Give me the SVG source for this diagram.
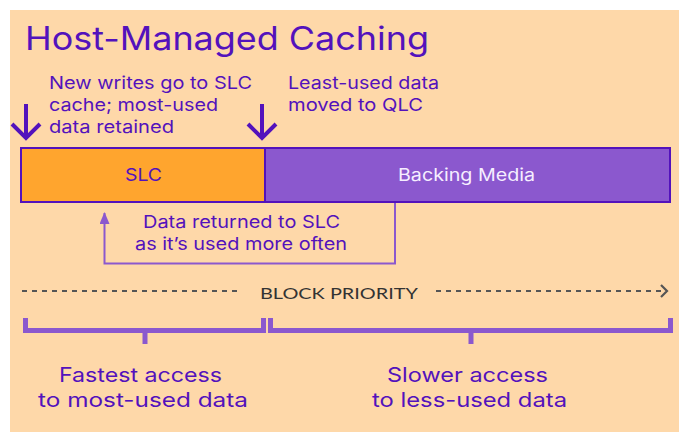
<svg xmlns="http://www.w3.org/2000/svg" width="679" height="432" viewBox="0 0 679 432">
  <defs>
    <style>
      .t { font-family: Inter, "Noto Sans", sans-serif; fill: #5312BC; }
      .note { font-size: 17.5px; }
      .big { font-size: 20px; }
      .down { stroke: #5312BC; stroke-width: 4; fill: none; }
      .brk { stroke: #8B58CE; stroke-width: 5; fill: none; }
      .dash { stroke: #555555; stroke-width: 2.2; stroke-dasharray: 5 5; fill: none; }
    </style>
    <marker id="tri" viewBox="0 0 12 10" refX="11" refY="5" markerWidth="12" markerHeight="10" markerUnits="userSpaceOnUse" orient="auto">
      <path d="M0,0 L12,5 L0,10 Z" fill="#8B58CE"/>
    </marker>
  </defs>
  <rect x="0" y="0" width="679" height="432" fill="#FFFFFF"/>
  <rect x="10" y="10" width="669" height="422" fill="#FED8A9"/>

  <text class="t" x="25" y="50" font-size="32" textLength="404" lengthAdjust="spacingAndGlyphs">Host-Managed Caching</text>

  <g id="note-new-writes">
    <text class="t note" x="49" y="89" textLength="203" lengthAdjust="spacingAndGlyphs">New writes go to SLC</text>
    <text class="t note" x="49" y="111" textLength="169" lengthAdjust="spacingAndGlyphs">cache; most-used</text>
    <text class="t note" x="49" y="133" textLength="125" lengthAdjust="spacingAndGlyphs">data retained</text>
  </g>
  <g id="note-least-used">
    <text class="t note" x="288" y="89" textLength="151" lengthAdjust="spacingAndGlyphs">Least-used data</text>
    <text class="t note" x="288" y="111" textLength="135" lengthAdjust="spacingAndGlyphs">moved to QLC</text>
  </g>

  <g id="slc">
    <rect x="21" y="148" width="244" height="54" fill="#FFA52E" stroke="#5312BC" stroke-width="2"/>
    <text class="t" x="125" y="181" font-size="17" textLength="37" lengthAdjust="spacingAndGlyphs">SLC</text>
  </g>
  <g id="backing-media">
    <rect x="265" y="148" width="405" height="54" fill="#8B58CE" stroke="#5312BC" stroke-width="2"/>
    <text x="398" y="181" font-size="17" textLength="137" lengthAdjust="spacingAndGlyphs" font-family="Inter, 'Noto Sans', sans-serif" fill="#F6EEFF">Backing Media</text>
  </g>

  <g id="note-returned">
    <text class="t note" x="143" y="228" textLength="197" lengthAdjust="spacingAndGlyphs">Data returned to SLC</text>
    <text class="t note" x="135" y="250" textLength="212" lengthAdjust="spacingAndGlyphs">as it’s used more often</text>
  </g>

  <g id="connectors">
    <path class="down" d="M26,104 V137 M12,124 L26,138 L40,124"/>
    <path class="down" d="M262,104 V137 M248,124 L262,138 L276,124"/>
    <path d="M395,203 V263.5 H104.5 V213" stroke="#8B58CE" stroke-width="2" fill="none" marker-end="url(#tri)"/>
    <path class="dash" d="M22,291 H238"/>
    <path class="dash" d="M436,291 H665"/>
    <path d="M661,285 L667,291 L661,297" stroke="#555555" stroke-width="2.2" fill="none"/>
  </g>

  <text x="260" y="299" font-size="16" textLength="158" lengthAdjust="spacingAndGlyphs" font-family="Lato, 'Open Sans', sans-serif" fill="#333333">BLOCK PRIORITY</text>

  <g id="bracket-fast">
    <path class="brk" d="M25.5,318 V330.5 H263.5 V318"/>
    <path class="brk" d="M145,330 V344"/>
    <text class="t big" x="59" y="382" textLength="163" lengthAdjust="spacingAndGlyphs">Fastest access</text>
    <text class="t big" x="38" y="407" textLength="210" lengthAdjust="spacingAndGlyphs">to most-used data</text>
  </g>
  <g id="bracket-slow">
    <path class="brk" d="M270.5,318 V330.5 H670.5 V318"/>
    <path class="brk" d="M471,330 V344"/>
    <text class="t big" x="387" y="382" textLength="161" lengthAdjust="spacingAndGlyphs">Slower access</text>
    <text class="t big" x="372" y="407" textLength="195" lengthAdjust="spacingAndGlyphs">to less-used data</text>
  </g>
</svg>
